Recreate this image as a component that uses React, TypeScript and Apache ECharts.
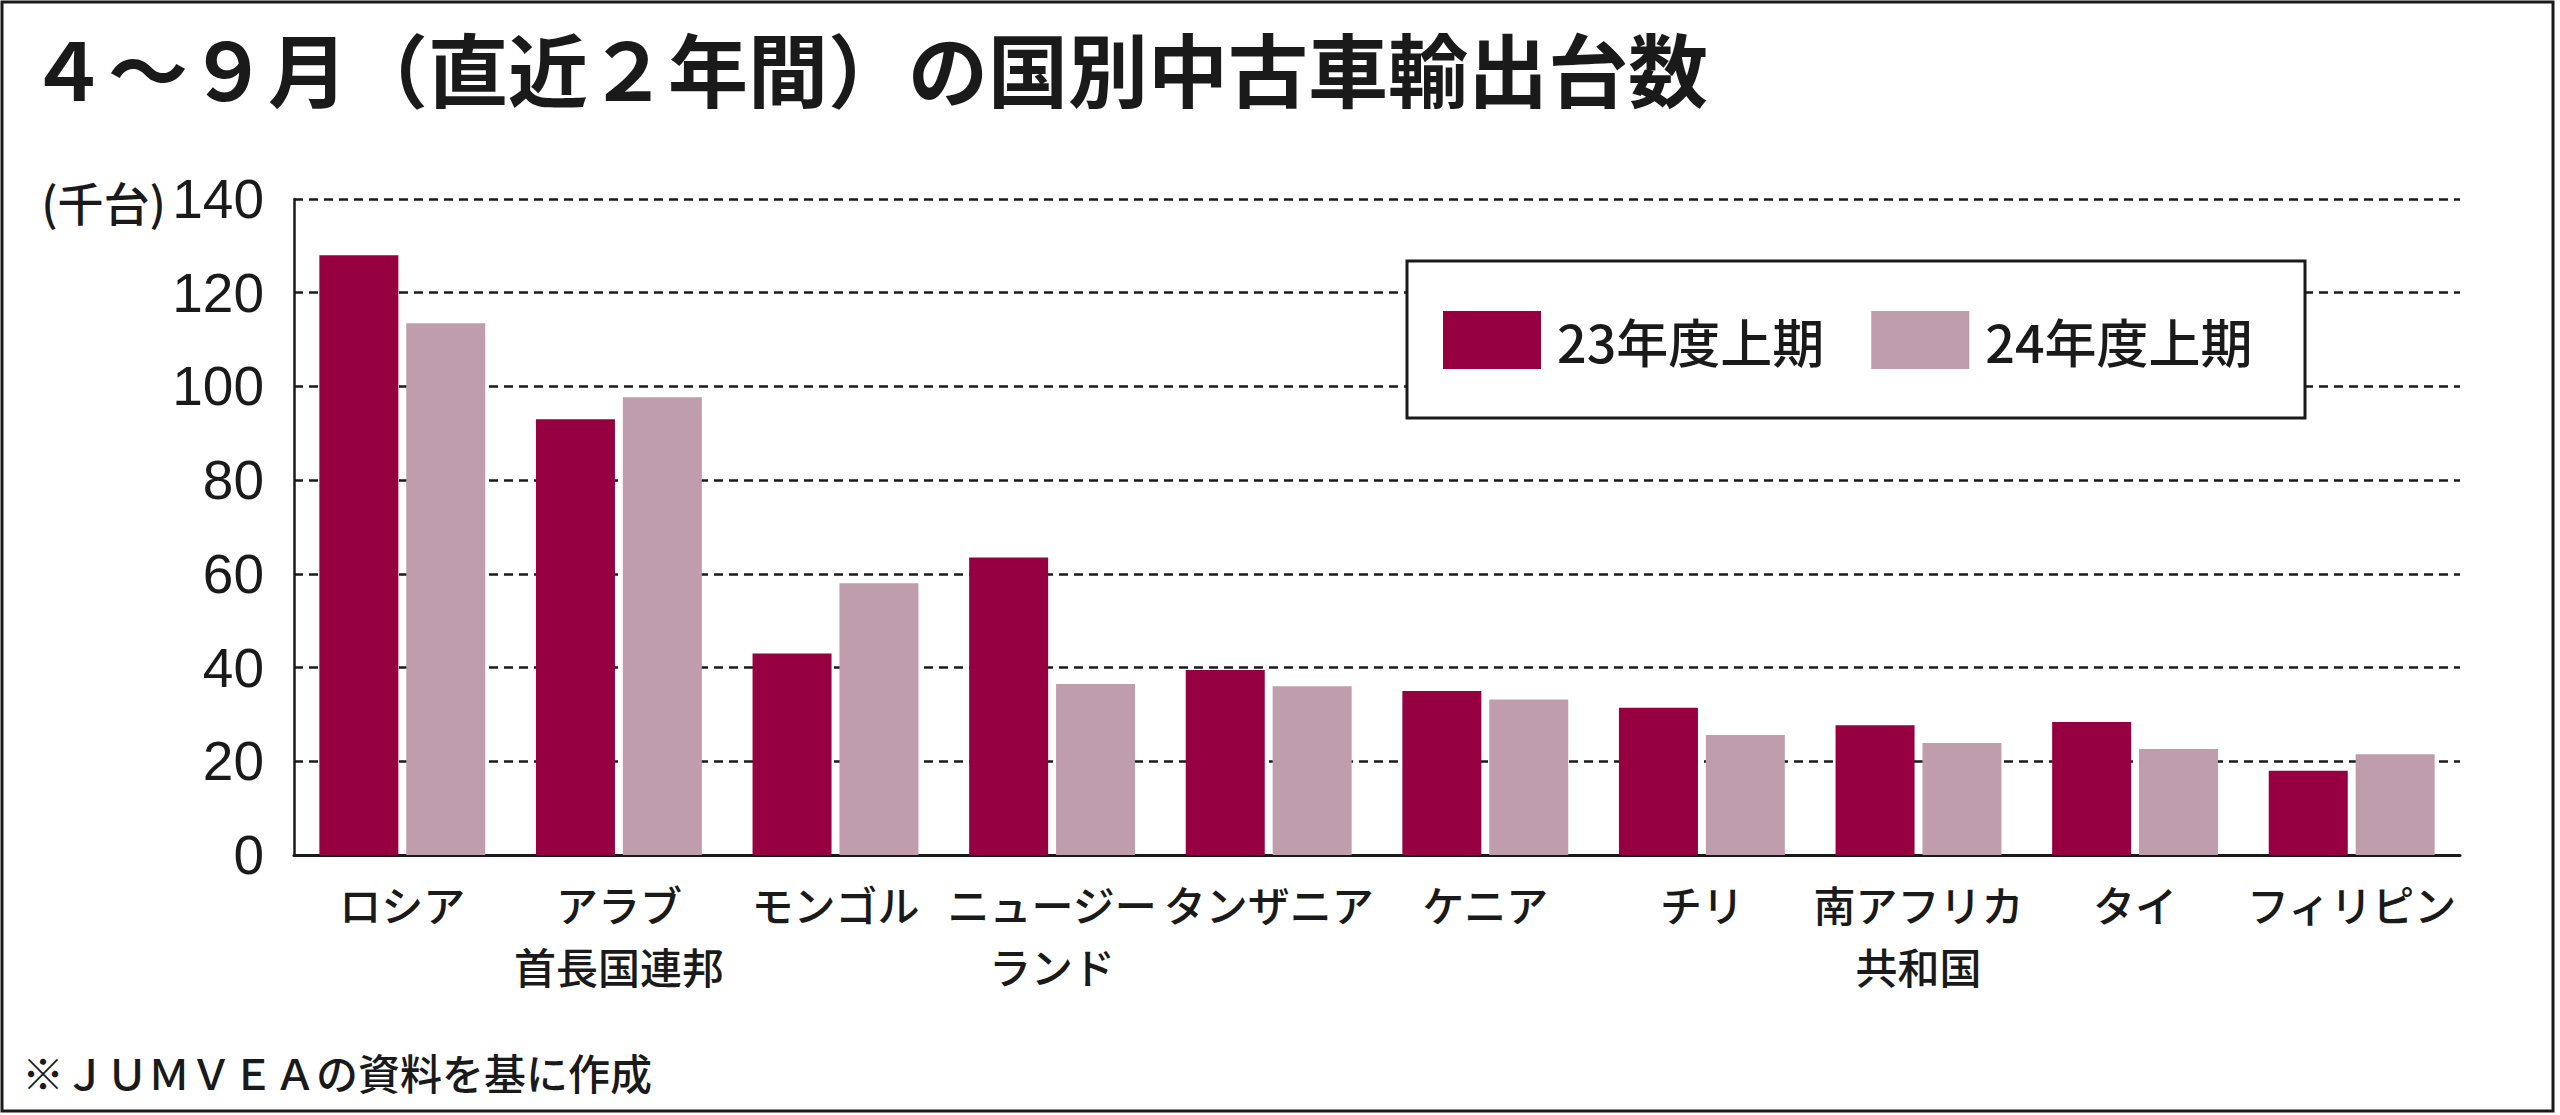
import React, { useEffect, useRef } from "react";
import * as echarts from "echarts";

const categories = [
  "ロシア",
  "アラブ\n首長国連邦",
  "モンゴル",
  "ニュージー\nランド",
  "タンザニア",
  "ケニア",
  "チリ",
  "南アフリカ\n共和国",
  "タイ",
  "フィリピン",
];
const series23 = [128, 93, 43, 63.5, 39.5, 35, 31.4, 27.7, 28.4, 18];
const series24 = [113.5, 97.7, 58, 36.5, 36, 33.2, 25.6, 23.9, 22.6, 21.5];
const seriesNames = ["23年度上期", "24年度上期"];
const yTicks = { min: 0, max: 140, interval: 20 };

const titleText = "４～９月（直近２年間）の国別中古車輸出台数";
const unitText = "(千台)";
const noteText = "※ＪＵＭＶＥＡの資料を基に作成";

const DARK = "#970040";
const LIGHT = "#C09DAD";
const JP = "'Noto Sans CJK JP', 'Noto Sans', sans-serif";
const NUM = "'Liberation Sans Narrow', 'Liberation Sans', 'Noto Sans', sans-serif";

export default function App() {
  const ref = useRef<HTMLDivElement>(null);
  useEffect(() => {
    document.body.style.margin = "0";
    if (!ref.current) return;
    const chart = echarts.init(ref.current, undefined, { renderer: "svg" });
    chart.setOption({
      animation: false,
      backgroundColor: "#ffffff",
      title: {
        text: titleText,
        left: 28,
        top: 26,
        padding: 0,
        textStyle: { fontFamily: JP, fontSize: 80, fontWeight: "bold", color: "#1a1a1a" },
      },
      grid: { left: 294, right: 100, top: 199, bottom: 260, containLabel: false },
      legend: {
        left: 1443,
        top: 311,
        padding: 0,
        itemWidth: 98,
        itemHeight: 58,
        itemGap: 47,
        icon: "rect",
        data: seriesNames,
        textStyle: {
          fontFamily: JP,
          fontSize: 52,
          fontWeight: 500,
          color: "#1a1a1a",
          padding: [0, 0, 0, 11],
        },
        z: 5,
      },
      xAxis: {
        type: "category",
        data: categories,
        axisLine: { show: true, lineStyle: { color: "#1a1a1a", width: 3 } },
        axisTick: { show: false },
        axisLabel: {
          interval: 0,
          margin: 17,
          fontFamily: JP,
          fontSize: 42,
          fontWeight: 500,
          lineHeight: 62,
          color: "#1a1a1a",
        },
      },
      yAxis: {
        type: "value",
        min: yTicks.min,
        max: yTicks.max,
        interval: yTicks.interval,
        axisLine: { show: true, lineStyle: { color: "#1a1a1a", width: 2.5 } },
        axisTick: { show: false },
        axisLabel: { margin: 30, fontFamily: NUM, fontSize: 55, color: "#1a1a1a" },
        splitLine: {
          show: true,
          lineStyle: { color: "#1a1a1a", width: 2.5, type: [9, 6] },
        },
      },
      series: [
        {
          name: seriesNames[0],
          type: "bar",
          data: series23,
          barWidth: 79,
          barGap: "10%",
          itemStyle: { color: DARK },
        },
        {
          name: seriesNames[1],
          type: "bar",
          data: series24,
          barWidth: 79,
          barGap: "10%",
          itemStyle: { color: LIGHT },
        },
      ],
      graphic: [
        {
          type: "rect",
          z: 3,
          shape: { x: 1407, y: 261, width: 898, height: 157 },
          style: { fill: "#ffffff", stroke: "#1a1a1a", lineWidth: 3 },
        },
        {
          type: "rect",
          z: 10,
          silent: true,
          shape: { x: 2, y: 2, width: 2551, height: 1109 },
          style: { fill: "none", stroke: "#1a1a1a", lineWidth: 3 },
        },
        {
          type: "text",
          z: 10,
          x: 166,
          y: 201,
          style: {
            text: unitText,
            fontFamily: JP,
            fontSize: 46,
            fontWeight: 500,
            fill: "#1a1a1a",
            align: "right",
            verticalAlign: "middle",
          },
        },
        {
          type: "text",
          z: 10,
          x: 22,
          y: 1071,
          style: {
            text: noteText,
            fontFamily: JP,
            fontSize: 42,
            fontWeight: 500,
            fill: "#1a1a1a",
            align: "left",
            verticalAlign: "middle",
          },
        },
      ],
    });
    return () => chart.dispose();
  }, []);
  return <div ref={ref} style={{ width: 2560, height: 1115 }} />;
}
